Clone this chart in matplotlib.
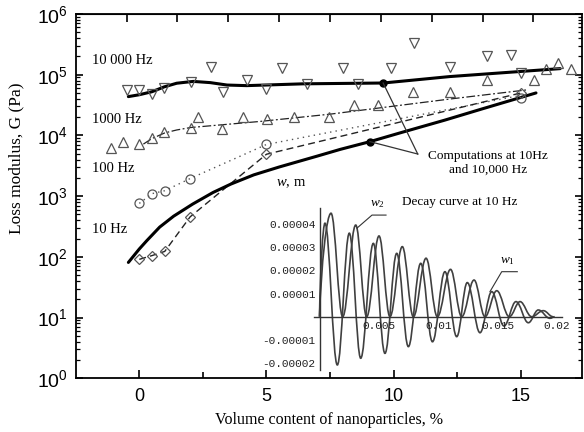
import numpy as np
import matplotlib
matplotlib.use("Agg")
import matplotlib.pyplot as plt
from matplotlib.path import Path
from matplotlib.patches import PathPatch
from matplotlib.ticker import FixedLocator, NullFormatter

plt.rcParams['font.family'] = ['Liberation Sans', 'DejaVu Sans']
plt.rcParams['mathtext.fontset'] = 'custom'
plt.rcParams['mathtext.rm'] = 'Liberation Sans'
plt.rcParams['mathtext.it'] = 'Liberation Serif:italic'
plt.rcParams['mathtext.default'] = 'regular'

SERIF = 'Liberation Serif'
MONO = 'Liberation Mono'

# ---------------- main chart data (volume %, loss modulus Pa) ----------------
x_10000 = [-0.50, 0.0, 0.50, 0.98, 2.02, 2.81, 3.28, 4.22, 4.98, 5.62, 6.58,
           8.0, 8.61, 9.90, 10.81, 12.22, 13.66, 14.62, 15.0]
g_10000 = [55000, 55000, 49000, 60000, 76000, 132000, 51000, 83000, 58000, 129000,
           71000, 129000, 71000, 129000, 331000, 132000, 204000, 214000, 107000]

x_1000 = [-1.12, -0.65, 0.0, 0.50, 0.98, 2.02, 2.30, 3.26, 4.07, 5.01, 6.08,
          7.47, 8.44, 9.40, 10.77, 12.22, 13.66, 15.53, 15.98, 16.48, 16.96]
g_1000 = [6200, 7900, 7100, 9100, 11200, 13500, 20400, 12600, 20400, 18600, 20000,
          20000, 31600, 31600, 51000, 51000, 81000, 81000, 123000, 155000, 123000]

x_100 = [0.0, 0.5, 1.0, 2.0, 5.0, 15.0]
g_100 = [760, 1100, 1230, 1950, 7100, 41700]

x_10 = [0.0, 0.5, 1.0, 2.0, 5.0, 15.0]
g_10 = [91, 105, 123, 457, 4900, 50000]

# fitted / connecting lines
x_fit1000 = [0.16, 0.5, 1.0, 1.47, 2.02, 4.75, 7.5, 12.22, 15.23]
g_fit1000 = [7200, 8900, 11000, 12300, 13500, 17000, 22400, 39800, 56200]

x_dot100 = [0.0, 0.5, 1.0, 2.0, 5.0, 15.0]
g_dot100 = [760, 1100, 1230, 1950, 7100, 45700]

x_dash10 = [0.0, 0.5, 1.0, 2.0, 5.0, 15.0]
g_dash10 = [91, 105, 123, 457, 4900, 50000]

# computations (thick solid curves)
x_comp10000 = [-0.43, 0.0, 0.5, 0.98, 1.47, 2.12, 2.79, 3.45, 4.22, 6.45, 9.59, 12.22, 16.55]
g_comp10000 = [43600, 46800, 52500, 63100, 72400, 77600, 74100, 67600, 66100, 70800,
               73000, 93300, 126000]

x_comp10 = [-0.43, 0.0, 0.3, 0.8, 1.35, 2.1, 2.9, 3.6, 4.5, 5.5, 7.0, 7.9, 9.07,
            10.25, 12.0, 13.5, 15.6]
g_comp10 = [81, 135, 186, 309, 468, 741, 1150, 1580, 2240, 3020, 4570, 5890, 7900,
            11000, 17800, 27500, 50100]

# highlighted computation points and callout apex
x_marked = [9.59, 9.07]
g_marked = [73000, 7900]
callout_apex = (10.95, 4940)

x_major_ticks = [0, 5, 10, 15]
x_tick_labels = ['0', '5', '10', '15']
x_top_ticks = [-0.5, 1.5, 3.5, 5.5, 7.5, 9.5, 11.5, 13.5, 15.5]
y_major_ticks = [1, 10, 100, 1000, 10000, 100000, 1000000]
y_tick_labels = ['$10^{0}$', '$10^{1}$', '$10^{2}$', '$10^{3}$', '$10^{4}$',
                 '$10^{5}$', '$10^{6}$']

# ---------------- inset data (decay curves at 10 Hz) ----------------
w1_x = [0.0, 0.00046, 0.00150, 0.00251, 0.00347, 0.00453, 0.00551, 0.00650, 0.00748,
        0.00852, 0.00951, 0.01056, 0.01155, 0.01244, 0.01351, 0.01450, 0.01553,
        0.01654, 0.01758, 0.01842, 0.01940, 0.01980]
w1_y = [0.0, 4.03e-5, -2.08e-5, 3.60e-5, -1.79e-5, 3.16e-5, -1.58e-5, 2.73e-5, -1.29e-5,
        2.30e-5, -1.08e-5, 1.94e-5, -0.86e-5, 1.47e-5, -0.69e-5, 1.08e-5, -0.40e-5,
        0.65e-5, -0.26e-5, 0.29e-5, -0.07e-5, 0.0]

w2_x = [0.0, 0.00097, 0.00195, 0.00305, 0.00397, 0.00501, 0.00593, 0.00697, 0.00790,
        0.00897, 0.00992, 0.01103, 0.01197, 0.01301, 0.01393, 0.01492, 0.01598,
        0.01688, 0.01786, 0.01884, 0.01966]
w2_y = [0.0, 4.46e-5, 0.0, 3.95e-5, 0.0, 3.48e-5, 0.0, 3.02e-5, 0.0, 2.52e-5, 0.0,
        2.04e-5, 0.0, 1.58e-5, 0.0, 1.12e-5, 0.0, 0.65e-5, 0.0, 0.26e-5, 0.0]

inset_xticks = [0.005, 0.01, 0.015, 0.02]
inset_xlabels = ['0.005', '0.01', '0.015', '0.02']
inset_yticks = [-2e-5, -1e-5, 1e-5, 2e-5, 3e-5, 4e-5]
inset_ylabels = ['-0.00002', '-0.00001', '0.00001', '0.00002', '0.00003', '0.00004']

w2_leader_x = [0.00560, 0.00442, 0.00316]
w2_leader_y = [4.38e-5, 4.38e-5, 3.82e-5]
w1_leader_x = [0.01665, 0.01534, 0.01435]
w1_leader_y = [1.94e-5, 1.94e-5, 1.08e-5]

# ---------------- figure ----------------
W, H = 584, 432
fig = plt.figure(figsize=(W / 100, H / 100), dpi=100)
L, R, T, B = 76, 581.5, 14, 378.3
ax = fig.add_axes([L / W, 1 - B / H, (R - L) / W, (B - T) / H])
ax.set_yscale('log')
ax.set_xlim(-2.49, 17.39)
ax.set_ylim(1, 1e6)

mk = dict(linestyle='none', markerfacecolor='none', markeredgecolor='#555555',
          markeredgewidth=0.9)

# lines
ax.plot(x_fit1000, g_fit1000, color='#222222', lw=0.9, linestyle=(0, (7, 2, 1.5, 2)))
ax.plot(x_dot100, g_dot100, color='#555555', lw=1.0, linestyle=(0, (1, 3)))
ax.plot(x_dash10, g_dash10, color='#222222', lw=1.0, linestyle=(0, (5, 3)))
ax.plot(x_comp10000, g_comp10000, color='black', lw=2.2, solid_capstyle='round')
ax.plot(x_comp10, g_comp10, color='black', lw=2.2, solid_capstyle='round')

# markers
ax.plot(x_10000, g_10000, marker='v', markersize=7.8, **mk)
ax.plot(x_1000, g_1000, marker='^', markersize=7.8, **mk)
ax.plot(x_100, g_100, marker='o', markersize=6.5, **mk)
ax.plot(x_10, g_10, marker='D', markersize=5.4, **mk)

ax.plot(x_marked, g_marked, linestyle='none', marker='o', markersize=5,
        color='black')
for xm, gm in zip(x_marked, g_marked):
    ax.plot([callout_apex[0], xm], [callout_apex[1], gm], color='#333333', lw=0.9)

ax.text(13.71, 3500, 'Computations at 10Hz\nand 10,000 Hz', family=SERIF,
        fontsize=9.5, ha='center', va='center', linespacing=1.15)

ax.text(-1.86, 172000, '10 000 Hz', family=SERIF, fontsize=10.5, va='center')
ax.text(-1.86, 18000, '1000 Hz', family=SERIF, fontsize=10.5, va='center')
ax.text(-1.86, 2900, '100 Hz', family=SERIF, fontsize=10.5, va='center')
ax.text(-1.86, 282, '10 Hz', family=SERIF, fontsize=10.5, va='center')

# axes styling
for s in ax.spines.values():
    s.set_linewidth(1.3)
ax.xaxis.set_major_locator(FixedLocator(x_major_ticks))
ax.set_xticklabels(x_tick_labels)
ax.xaxis.set_minor_locator(FixedLocator([2.5, 7.5, 12.5]))
ax.yaxis.set_major_locator(FixedLocator(y_major_ticks))
ax.set_yticklabels(y_tick_labels)
minor_y = [m * 10.0 ** e for e in range(0, 6) for m in range(2, 10)]
ax.yaxis.set_minor_locator(FixedLocator(minor_y))
ax.yaxis.set_minor_formatter(NullFormatter())
ax.tick_params(axis='both', which='both', direction='in', right=True)
ax.tick_params(axis='x', which='major', length=6, width=1.2, labelsize=13, pad=7)
ax.tick_params(axis='x', which='minor', length=4, width=1.2)
ax.tick_params(axis='y', which='major', length=5, width=1.2, labelsize=14, pad=6)
ax.tick_params(axis='y', which='minor', length=3, width=0.9)

top = ax.secondary_xaxis('top')
top.set_xticks(x_top_ticks)
top.tick_params(direction='in', length=6, width=1.2, labeltop=False)

ax.set_xlabel('Volume content of nanoparticles, %', family=SERIF, fontsize=11.5)
ax.xaxis.set_label_coords(0.5, (B - 420) / (B - T), transform=ax.transAxes)
ax.xaxis.label.set_va('center')
ax.set_ylabel('Loss modulus, G (Pa)', family=SERIF, fontsize=12.5)
ax.yaxis.set_label_coords((16 - L) / (R - L), (B - 158) / (B - T),
                          transform=ax.transAxes)
ax.yaxis.label.set_va('center')

# ---------------- inset ----------------
ixl, ixr = -0.0005, 0.0204
iyb, iyt = -2.3e-5, 4.7e-5
px0, ppx = 319.5, 8.418e-5
left_px = px0 + ixl / ppx
right_px = px0 + ixr / ppx
zero_py, ppy = 316.7, 23.2 / 1e-5
top_py = zero_py - iyt * ppy
bot_py = zero_py - iyb * ppy
axi = fig.add_axes([left_px / W, 1 - bot_py / H, (right_px - left_px) / W,
                    (bot_py - top_py) / H])
axi.patch.set_alpha(0)
axi.set_xlim(ixl, ixr)
axi.set_ylim(iyb, iyt)
axi.spines['top'].set_visible(False)
axi.spines['right'].set_visible(False)
axi.spines['left'].set_position(('data', 0))
axi.spines['bottom'].set_position(('data', 0))
for s in ('left', 'bottom'):
    axi.spines[s].set_color('#333333')
    axi.spines[s].set_linewidth(1.0)
axi.set_xticks(inset_xticks)
axi.set_xticklabels(inset_xlabels, family=MONO, fontsize=8)
axi.set_yticks(inset_yticks)
axi.set_yticklabels(inset_ylabels, family=MONO, fontsize=8)
axi.tick_params(axis='both', length=0, pad=3, colors='#222222')


def decay_path(xs, ys):
    verts = [(xs[0], ys[0])]
    codes = [Path.MOVETO]
    for i in range(len(xs) - 1):
        x0, y0, x1, y1 = xs[i], ys[i], xs[i + 1], ys[i + 1]
        dx = x1 - x0
        if i == 0:
            c1 = (x0 + dx * 0.15, y0 + (y1 - y0) * 0.5)
        else:
            c1 = (x0 + dx * 0.38, y0)
        c2 = (x1 - dx * 0.38, y1)
        verts += [c1, c2, (x1, y1)]
        codes += [Path.CURVE4] * 3
    return Path(verts, codes)


for xs, ys in ((w1_x, w1_y), (w2_x, w2_y)):
    axi.add_patch(PathPatch(decay_path(xs, ys), fill=False, edgecolor='#404040',
                            lw=1.2))

axi.plot(w2_leader_x, w2_leader_y, color='#333333', lw=0.8, clip_on=False)
axi.plot(w1_leader_x, w1_leader_y, color='#333333', lw=0.8, clip_on=False)
axi.text(0.0049, 4.85e-5, '$\\mathit{w}_{2}$', fontsize=9.5, ha='center',
         va='center', family=SERIF, clip_on=False)
axi.text(0.0158, 2.4e-5, '$\\mathit{w}_{1}$', fontsize=9.5, ha='center',
         va='center', family=SERIF, clip_on=False)

fig.text(291 / W, 1 - 183 / H, '$\\mathit{w}$, m', family=SERIF, fontsize=10.5,
         ha='center', va='center')
fig.text(460 / W, 1 - 202 / H, 'Decay curve at 10 Hz', family=SERIF, fontsize=9.5,
         ha='center', va='center')

fig.savefig('out.png', dpi=100)
